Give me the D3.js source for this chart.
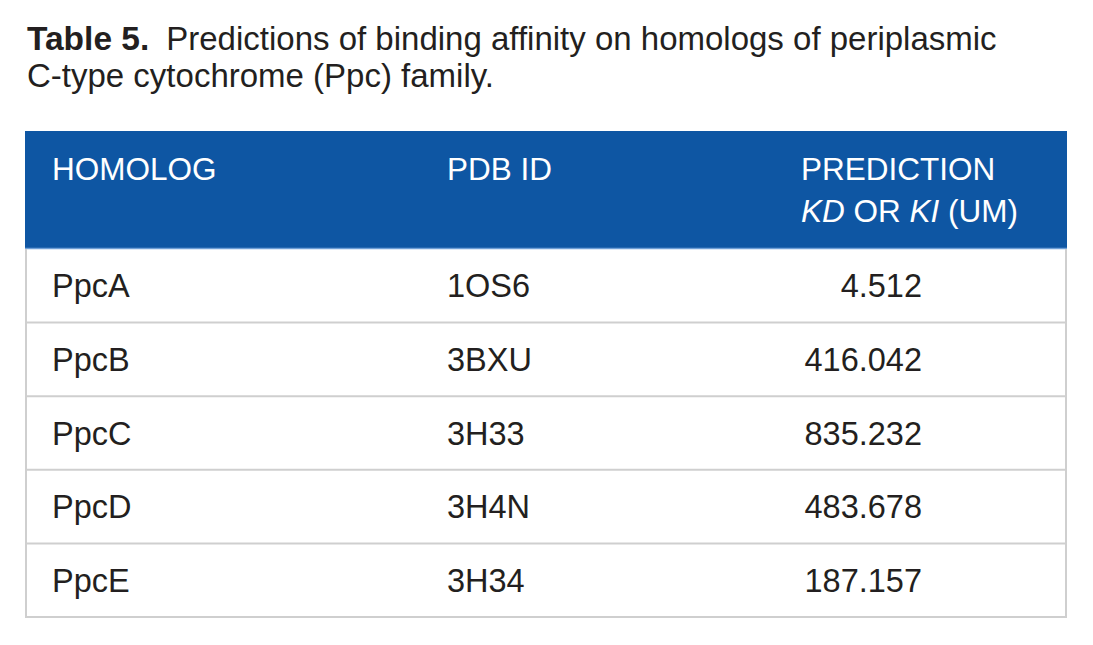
<!DOCTYPE html>
<html><head><meta charset="utf-8">
<script src="https://cdn.jsdelivr.net/npm/d3@7"></script>
<style>
html,body{margin:0;padding:0;background:#fff;}
svg{display:block;font-family:"Liberation Sans",Arial,Helvetica,sans-serif;}
</style></head>
<body>
<svg id="chart" width="1093" height="645"></svg>
<script>
const titleBold = "Table 5.";
const titleLine1 = "Predictions of binding affinity on homologs of periplasmic";
const titleLine2 = "C-type cytochrome (Ppc) family.";
const columns = ["HOMOLOG", "PDB ID", "PREDICTION"];
const homologs = ["PpcA", "PpcB", "PpcC", "PpcD", "PpcE"];
const pdbIds = ["1OS6", "3BXU", "3H33", "3H4N", "3H34"];
const predictions = ["4.512", "416.042", "835.232", "483.678", "187.157"];

const svg = d3.select("#chart");
const tableLeft = 25, tableRight = 1067;
const headTop = 131, headBottom = 249, tableBottom = 617;
const textColor = "#231f20";

// Title
const t1 = svg.append("text").attr("x", 27).attr("y", 50)
  .attr("font-size", 33).attr("fill", textColor);
t1.append("tspan").attr("font-weight", "bold").attr("font-size", 33.5).text(titleBold);
t1.append("tspan").attr("dx", 17).text(titleLine1);
svg.append("text").attr("x", 27).attr("y", 87)
  .attr("font-size", 33).attr("fill", textColor).text(titleLine2);

// scales
const y = d3.scaleBand().domain(homologs).range([headBottom, tableBottom]).padding(0);
const x = d3.scaleOrdinal().domain(["homolog", "pdb", "pred"]).range([52, 447, 801]);
const predRight = 922;

// header
svg.append("rect").attr("x", tableLeft).attr("y", headTop)
  .attr("width", tableRight - tableLeft).attr("height", headBottom - headTop)
  .attr("fill", "#0e56a3");
svg.append("line").attr("x1", tableLeft).attr("x2", tableRight)
  .attr("y1", headBottom - 0.5).attr("y2", headBottom - 0.5)
  .attr("stroke", "#6f9fd6").attr("stroke-width", 1.5);

const hdr = svg.append("g").attr("fill", "#fff").attr("font-size", 31.5);
hdr.append("text").attr("x", x("homolog")).attr("y", 180).text(columns[0]);
hdr.append("text").attr("x", x("pdb")).attr("y", 180).text(columns[1]);
hdr.append("text").attr("x", x("pred")).attr("y", 180).text(columns[2]);
const h2 = hdr.append("text").attr("x", x("pred")).attr("y", 222);
h2.append("tspan").attr("font-style", "italic").text("KD");
h2.append("tspan").text(" OR ");
h2.append("tspan").attr("font-style", "italic").text("KI");
h2.append("tspan").text(" (UM)");

// body borders
const border = "#cfcfcf";
svg.append("line").attr("x1", tableLeft + 1).attr("x2", tableLeft + 1)
  .attr("y1", headBottom).attr("y2", tableBottom + 1).attr("stroke", border).attr("stroke-width", 2);
svg.append("line").attr("x1", tableRight - 1).attr("x2", tableRight - 1)
  .attr("y1", headBottom).attr("y2", tableBottom + 1).attr("stroke", border).attr("stroke-width", 2);
svg.selectAll("line.rowline").data(homologs).enter().append("line")
  .attr("class", "rowline")
  .attr("x1", tableLeft).attr("x2", tableRight)
  .attr("y1", d => y(d) + y.bandwidth()).attr("y2", d => y(d) + y.bandwidth())
  .attr("stroke", border).attr("stroke-width", 2);

// body text
const rows = svg.selectAll("g.row").data(homologs.map((h, i) => ({h, id: pdbIds[i], p: predictions[i]})))
  .enter().append("g").attr("class", "row")
  .attr("transform", d => `translate(0,${y(d.h) + y.bandwidth() / 2 + 11.5})`)
  .attr("font-size", 32.5).attr("fill", textColor);
rows.append("text").attr("x", x("homolog")).text(d => d.h);
rows.append("text").attr("x", x("pdb")).text(d => d.id);
rows.append("text").attr("x", predRight).attr("text-anchor", "end").text(d => d.p);
</script>
</body></html>
